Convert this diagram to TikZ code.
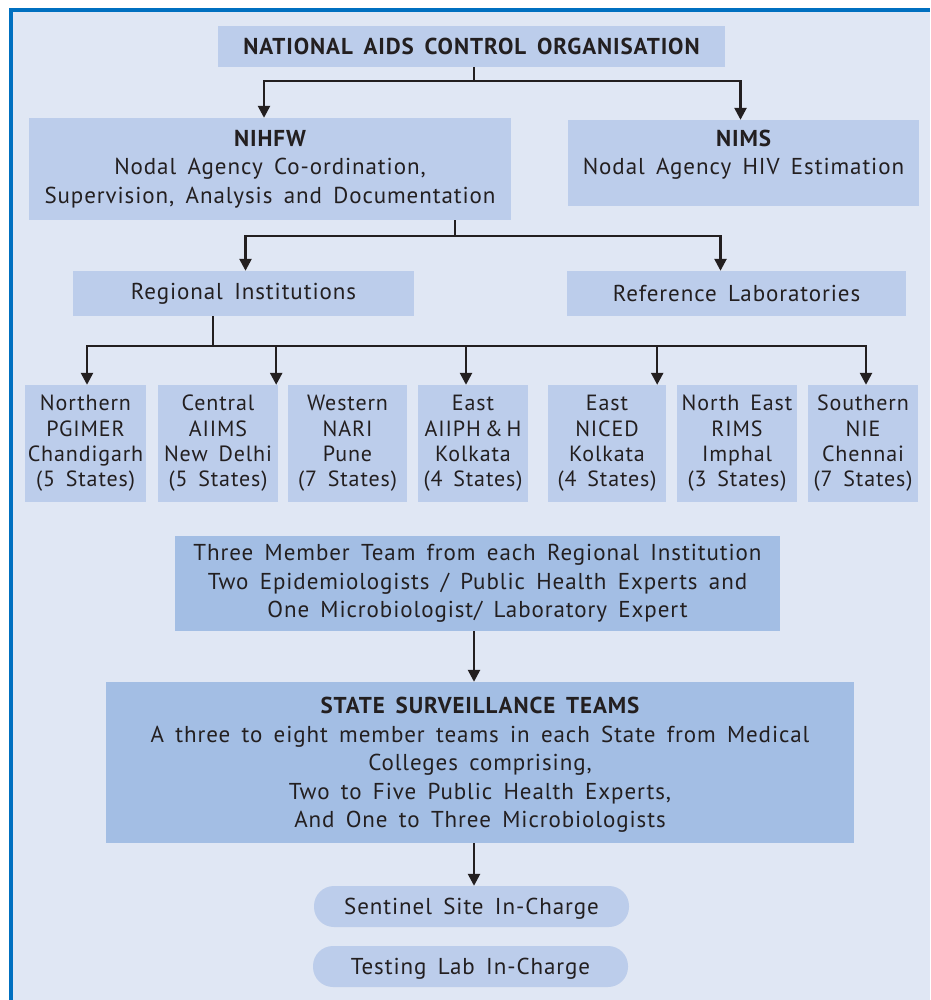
\documentclass[tikz,border=0pt]{standalone}
\usepackage{fontspec}
\setmainfont{PT Sans}[LetterSpace=4, WordSpace=1.6]
\usetikzlibrary{arrows.meta,positioning}
\definecolor{pagebg}{HTML}{E0E7F4}
\definecolor{boxfill}{HTML}{BCCDEB}
\definecolor{teamfill}{HTML}{A3BEE4}
\definecolor{frameblue}{HTML}{0070C0}
\definecolor{inkline}{HTML}{231F20}
\tikzset{
  orgbox/.style={fill=boxfill, align=center, inner sep=0pt, text=inkline,
    font=\fontsize{23}{28.4}\selectfont},
  regbox/.style={fill=boxfill, align=center, inner sep=0pt, text=inkline,
    minimum height=117pt, font=\fontsize{22}{25.3}\selectfont},
  teambox/.style={orgbox, fill=teamfill},
  pillbox/.style={orgbox, rounded corners=20pt, minimum width=315pt, minimum height=41pt},
  link/.style={draw=inkline, line width=2.5pt},
  arrow/.style={link, -{Triangle[width=12pt,length=12pt]}}
}
\begin{document}
\begin{tikzpicture}[x=1pt,y=-1pt]
    \useasboundingbox (0,0) rectangle (930,1000);
    % Page and frame
    \fill[white] (0,0) rectangle (930,1000);
    \fill[pagebg] (11,10) rectangle (930,1000);
    \draw[frameblue, line width=4pt] (11,1000) -- (11,10) -- (930,10);

    % Head office
    \node[orgbox, minimum width=507pt, minimum height=41pt] (naco) at (471.5,46.5)
        {\bfseries NATIONAL AIDS CONTROL ORGANISATION};

    % Nodal agencies
    \node[orgbox, minimum width=482pt, minimum height=102pt] (nihfw) at (270,169)
        {\bfseries NIHFW\\ Nodal Agency Co-ordination,\\ Supervision, Analysis and Documentation};
    \node[orgbox, minimum width=351pt, minimum height=86pt, text depth=22pt] (nims) at (743.5,163)
        {\bfseries NIMS\\ Nodal Agency HIV Estimation};

    \coordinate (forkA) at (474,81);
    \draw[link] (forkA |- naco.south) -- (forkA);
    \draw[arrow] (forkA) -| ([xshift=-6pt]nihfw.north);
    \draw[arrow] (forkA) -| ([xshift=-3pt]nims.north);

    % Institutions and laboratories
    \node[orgbox, minimum width=341pt, minimum height=45pt] (regional) at (243.5,293.5)
        {Regional Institutions};
    \node[orgbox, minimum width=339pt, minimum height=45pt] (reflab) at (736.5,293.5)
        {Reference Laboratories};

    \coordinate (forkB) at (455,236);
    \draw[link] (forkB |- nihfw.south) -- (forkB);
    \draw[arrow] (forkB) -| ([xshift=2pt]regional.north);
    \draw[arrow] (forkB) -| ([xshift=-16pt]reflab.north);

    % Regional institutions
    \node[regbox, minimum width=121pt] (northern) at (85.5,443.5)
        {Northern\\ PGIMER\\ Chandigarh\\ (5 States)};
    \node[regbox, minimum width=120pt] (central) at (218,443.5)
        {Central\\ AIIMS\\ New Delhi\\ (5 States)};
    \node[regbox, minimum width=119pt] (western) at (347.5,443.5)
        {Western\\ NARI\\ Pune\\ (7 States)};
    \node[regbox, minimum width=110pt] (aiiph) at (473,443.5)
        {East\\ AIIPH\hspace{4pt}\&\hspace{4pt}H\\ Kolkata\\ (4 States)};
    \node[regbox, minimum width=118pt] (niced) at (607,443.5)
        {East\\ NICED\\ Kolkata\\ (4 States)};
    \node[regbox, minimum width=120pt] (northeast) at (737,443.5)
        {North East\\ RIMS\\ Imphal\\ (3 States)};
    \node[regbox, minimum width=110pt] (southern) at (863,443.5)
        {Southern\\ NIE\\ Chennai\\ (7 States)};

    \coordinate (forkC) at (213,346);
    \draw[link] (forkC |- regional.south) -- (forkC);
    \draw[link] (forkC) -- ++(-126,0);
    \draw[link] (forkC) -- ++(653,0);
    \draw[arrow] (forkC) -| ([xshift=1.5pt]northern.north);
    \draw[arrow] (forkC) -| ([xshift=-2pt]central.north east);
    \draw[arrow] (forkC) -| ([xshift=-7pt]aiiph.north);
    \draw[arrow] (forkC) -| ([xshift=-9pt]niced.north east);
    \draw[arrow] (forkC) -| ([xshift=3pt]southern.north);

    % Teams
    \node[teambox, minimum width=605pt, minimum height=95pt] (member) at (477.5,583.5)
        {Three Member Team from each Regional Institution\\
         Two Epidemiologists / Public Health Experts and\\
         One Microbiologist/ Laboratory Expert};
    \node[teambox, minimum width=748pt, minimum height=161pt, text depth=0pt] (state) at (480,762.5)
        {\bfseries STATE SURVEILLANCE TEAMS\\
         A three to eight member teams in each State from Medical\\
         Colleges comprising,\\
         Two to Five Public Health Experts,\\
         And One to Three Microbiologists};
    \coordinate (forkD) at (474,0);
    \draw[arrow] (forkD |- member.south) -- (forkD |- state.north);

    % Site staff
    \node[pillbox, text depth=0pt] (sentinel) at (471.5,906.5) {Sentinel Site In-Charge};
    \node[pillbox, text depth=0pt] (testing) at (470.5,966.5) {Testing Lab In-Charge};
    \draw[arrow] (forkD |- state.south) -- (forkD |- sentinel.north);
\end{tikzpicture}
\end{document}
